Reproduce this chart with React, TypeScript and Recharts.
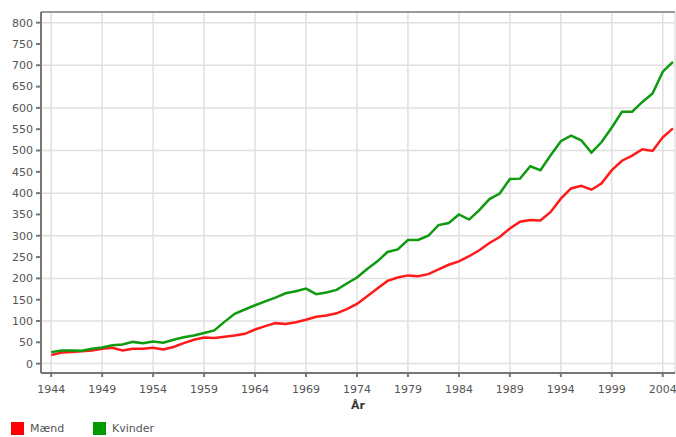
import { LineChart, Line, XAxis, YAxis, CartesianGrid, ReferenceLine } from "recharts";

const RED = "#ff1a1a";
const GREEN = "#0f9a0f";

const years = [
  1944, 1945, 1946, 1947, 1948, 1949, 1950, 1951, 1952, 1953,
  1954, 1955, 1956, 1957, 1958, 1959, 1960, 1961, 1962, 1963,
  1964, 1965, 1966, 1967, 1968, 1969, 1970, 1971, 1972, 1973,
  1974, 1975, 1976, 1977, 1978, 1979, 1980, 1981, 1982, 1983,
  1984, 1985, 1986, 1987, 1988, 1989, 1990, 1991, 1992, 1993,
  1994, 1995, 1996, 1997, 1998, 1999, 2000, 2001, 2002, 2003,
  2004, 2005,
];

const maend = [
  20, 26, 27, 29, 31, 35, 37, 31, 35, 35,
  37, 33, 39, 48, 56, 61, 60, 63, 66, 70,
  80, 88, 95, 93, 97, 103, 110, 113, 118, 128,
  140, 158, 176, 194, 202, 207, 205, 210, 221, 232,
  240, 252, 266, 283, 297, 317, 333, 337, 336, 356,
  387, 411, 417, 408, 423, 454, 476, 488, 503, 499,
  531, 552,
];

const kvinder = [
  27, 31, 31, 30, 35, 38, 43, 45, 51, 48,
  52, 49, 56, 62, 66, 72, 78, 98, 117, 127,
  137, 146, 155, 165, 170, 176, 163, 167, 173, 188,
  202, 222, 240, 262, 268, 290, 290, 300, 325, 330,
  350, 338, 360, 386, 399, 433, 434, 463, 454, 489,
  522, 535, 524, 495, 520, 554, 591, 591, 614, 634,
  685, 708,
];

const xTicks = [1944, 1949, 1954, 1959, 1964, 1969, 1974, 1979, 1984, 1989, 1994, 1999, 2004];
const yTicks = [0, 50, 100, 150, 200, 250, 300, 350, 400, 450, 500, 550, 600, 650, 700, 750, 800];

const data = years.map((year, i) => ({ year, maend: maend[i], kvinder: kvinder[i] }));

const FONT = "'DejaVu Sans', sans-serif";
const tick = { fill: "#555", fontSize: 11, fontFamily: FONT };

function LegendItem({ color, label, left }: { color: string; label: string; left: number }) {
  return (
    <div style={{ position: "absolute", left, top: 422, display: "flex", alignItems: "center" }}>
      <div style={{ width: 13, height: 13, background: color }} />
      <span style={{ marginLeft: 6, fontSize: 11, fontFamily: FONT, color: "#555" }}>{label}</span>
    </div>
  );
}

export default function App() {
  return (
    <div style={{ position: "absolute", left: 0, top: 0, width: 676, height: 437, background: "#fff" }}>
      <LineChart width={676} height={437} data={data} margin={{ top: 12, right: 1, left: 0, bottom: 0 }}>
        <CartesianGrid stroke="#e0e0e0" strokeWidth={1.5} />
        <XAxis
          dataKey="year"
          type="number"
          domain={[1943, 2005.2]}
          ticks={xTicks}
          allowDataOverflow
          height={64}
          tick={tick}
          tickSize={4}
          tickMargin={8}
          stroke="#777"
          strokeWidth={2}
          label={{ value: "År", position: "insideTop", offset: 28, fill: "#333", fontSize: 11, fontWeight: "bold", fontFamily: FONT }}
        />
        <YAxis
          type="number"
          domain={[-22, 825]}
          ticks={yTicks}
          allowDataOverflow
          width={41}
          tick={tick}
          tickSize={5}
          tickMargin={3}
          stroke="#777"
          strokeWidth={2}
        />
        <ReferenceLine y={825} stroke="#999" strokeWidth={2} />
        <Line dataKey="maend" stroke={RED} strokeWidth={2.5} dot={false} isAnimationActive={false} />
        <Line dataKey="kvinder" stroke={GREEN} strokeWidth={2.5} dot={false} isAnimationActive={false} />
      </LineChart>
      <LegendItem color="#ff0000" label="Mænd" left={11} />
      <LegendItem color="#009900" label="Kvinder" left={93} />
    </div>
  );
}
